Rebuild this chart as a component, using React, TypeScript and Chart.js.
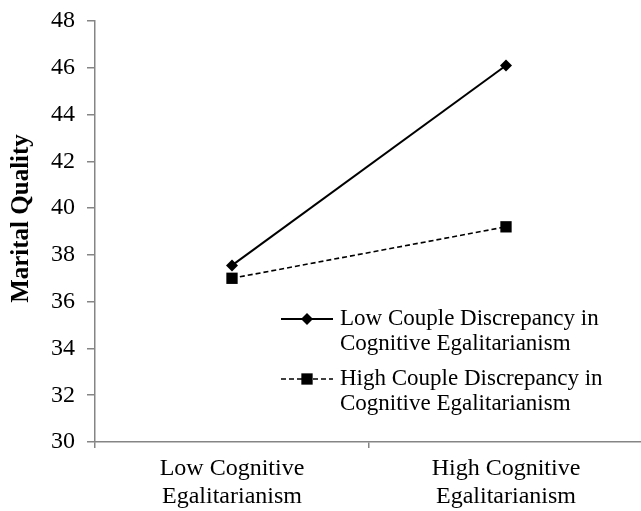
import React, { useEffect, useRef } from 'react';
import { Chart, registerables } from 'chart.js';

Chart.register(...registerables);

const categories = [
  ['Low Cognitive', 'Egalitarianism'],
  ['High Cognitive', 'Egalitarianism'],
];
const lowDiscrepancy = [37.55, 46.1];
const highDiscrepancy = [37.0, 39.2];
const seriesLabels = [
  ['Low Couple Discrepancy in', 'Cognitive Egalitarianism'],
  ['High Couple Discrepancy in', 'Cognitive Egalitarianism'],
];
const yMin = 30;
const yMax = 48;
const yStep = 2;
const yTitle = 'Marital Quality';

const SERIF = "'Liberation Serif', 'Times New Roman', serif";
const AXIS_COLOR = '#858585';

function drawMarker(ctx: CanvasRenderingContext2D, style: string, x: number, y: number, r: number) {
  ctx.beginPath();
  if (style === 'rectRot') {
    ctx.moveTo(x, y - r);
    ctx.lineTo(x + r, y);
    ctx.lineTo(x, y + r);
    ctx.lineTo(x - r, y);
    ctx.closePath();
  } else {
    const s = Math.SQRT1_2 * r;
    ctx.rect(x - s, y - s, 2 * s, 2 * s);
  }
  ctx.fill();
}

const customPlugin = {
  id: 'customDecor',
  afterDraw(chart: any) {
    const { ctx, chartArea } = chart;
    ctx.save();
    ctx.fillStyle = '#000';
    ctx.font = `bold 25px ${SERIF}`;
    ctx.textAlign = 'center';
    ctx.textBaseline = 'middle';
    ctx.translate(22, (chartArea.top + chartArea.bottom) / 2 - 13);
    ctx.rotate(-Math.PI / 2);
    ctx.fillText(yTitle, 0, 0);
    ctx.restore();

    ctx.save();
    const lx = chartArea.left + 186;
    const rowTops = [chartArea.top + 298, chartArea.top + 358];
    chart.data.datasets.forEach((ds: any, i: number) => {
      const y = rowTops[i];
      ctx.strokeStyle = '#000';
      ctx.lineWidth = ds.borderWidth;
      ctx.setLineDash(ds.borderDash || []);
      ctx.beginPath();
      ctx.moveTo(lx, y);
      ctx.lineTo(lx + 52, y);
      ctx.stroke();
      ctx.setLineDash([]);
      ctx.fillStyle = '#000';
      drawMarker(ctx, ds.pointStyle, lx + 26, y, ds.pointRadius);
      ctx.font = `23px ${SERIF}`;
      ctx.textAlign = 'left';
      ctx.textBaseline = 'middle';
      seriesLabels[i].forEach((line, j) => {
        ctx.fillText(line, lx + 59, y + j * 25);
      });
    });
    ctx.restore();
  },
};

export default function App() {
  const ref = useRef<HTMLCanvasElement | null>(null);

  useEffect(() => {
    document.body.style.margin = '0';
    const canvas = ref.current;
    if (!canvas) return;
    const chart = new Chart(canvas, {
      type: 'line',
      data: {
        labels: categories,
        datasets: [
          {
            label: seriesLabels[0].join(' '),
            data: lowDiscrepancy,
            borderColor: '#000',
            backgroundColor: '#000',
            borderWidth: 2,
            pointStyle: 'rectRot',
            pointRadius: 6,
            pointBackgroundColor: '#000',
            pointBorderWidth: 0,
          },
          {
            label: seriesLabels[1].join(' '),
            data: highDiscrepancy,
            borderColor: '#000',
            backgroundColor: '#000',
            borderWidth: 1.6,
            borderDash: [5, 3],
            pointStyle: 'rect',
            pointRadius: 8,
            pointBackgroundColor: '#000',
            pointBorderWidth: 0,
          },
        ],
      },
      options: {
        animation: false,
        responsive: false,
        maintainAspectRatio: false,
        layout: { padding: { top: 21, right: 0, left: 0, bottom: 0 } },
        plugins: {
          legend: { display: false },
          tooltip: { enabled: false },
        },
        scales: {
          x: {
            type: 'category',
            offset: true,
            border: { color: AXIS_COLOR, width: 1.5 },
            grid: {
              offset: true,
              drawOnChartArea: false,
              drawTicks: true,
              tickLength: 6,
              color: AXIS_COLOR,
              lineWidth: 1.5,
            },
            ticks: {
              color: '#000',
              font: { family: SERIF, size: 24, lineHeight: 1.15 },
              padding: 7,
              maxRotation: 0,
            },
            afterFit(scale: any) {
              scale.height = 69;
              scale.paddingLeft = 0;
              scale.paddingRight = 0;
            },
          },
          y: {
            min: yMin,
            max: yMax,
            border: { color: AXIS_COLOR, width: 1.5 },
            grid: {
              drawOnChartArea: false,
              drawTicks: true,
              tickLength: 8,
              color: AXIS_COLOR,
              lineWidth: 1.5,
            },
            ticks: {
              stepSize: yStep,
              color: '#000',
              font: { family: SERIF, size: 24 },
              padding: 12,
            },
            afterFit(scale: any) {
              scale.width = 95;
              scale.paddingTop = 0;
              scale.paddingBottom = 0;
            },
          },
        },
      },
      plugins: [customPlugin],
    });
    return () => chart.destroy();
  }, []);

  return (
    <div style={{ width: 641, height: 511, background: '#fff', overflow: 'hidden' }}>
      <canvas ref={ref} width={651} height={511} style={{ display: 'block' }} />
    </div>
  );
}
